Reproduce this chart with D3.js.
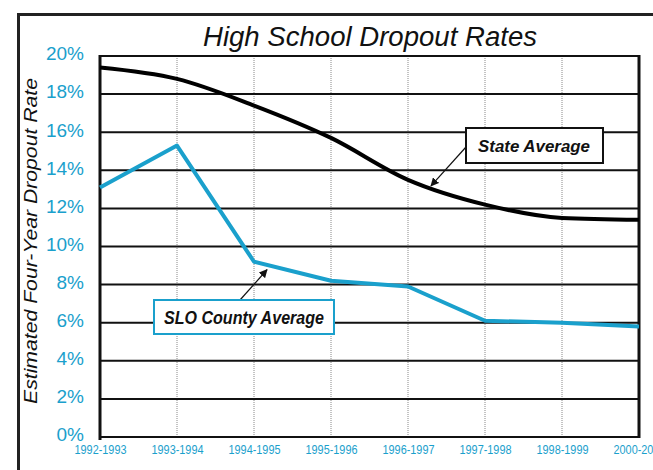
<!DOCTYPE html>
<html>
<head>
<meta charset="utf-8">
<script src="https://cdn.jsdelivr.net/npm/d3@7"></script>
<style>
  body { margin: 0; background: #fff; }
  svg { display: block; font-family: "Liberation Sans", Arial, sans-serif; }
</style>
</head>
<body>
<div id="chart"></div>
<script>
// Data
var years = ["1992-1993", "1993-1994", "1994-1995", "1995-1996", "1996-1997", "1997-1998", "1998-1999", "2000-2001"];
var stateAvg = [19.4, 18.8, 17.4, 15.7, 13.5, 12.2, 11.5, 11.4];
var sloAvg = [13.1, 15.3, 9.2, 8.2, 7.9, 6.1, 6.0, 5.8];
var yTicks = [0, 2, 4, 6, 8, 10, 12, 14, 16, 18, 20];

var svgWidth = 653;
var svgHeight = 470;
var blue = "#1aa0cc";

var svg = d3.select("#chart")
    .append("svg")
    .attr("width", svgWidth)
    .attr("height", svgHeight);

// outer frame (runs off the right and bottom edges)
svg.append("rect")
    .attr("x", 18.5)
    .attr("y", 14.5)
    .attr("width", 700)
    .attr("height", 500)
    .attr("fill", "none")
    .attr("stroke", "#222")
    .attr("stroke-width", 3);

var plot = { left: 100, right: 639, top: 56, bottom: 437 };

var x = d3.scalePoint()
    .domain(years)
    .range([plot.left, plot.right]);

var y = d3.scaleLinear()
    .domain([0, 20])
    .range([plot.bottom, plot.top]);

// vertical dotted grid
svg.append("g")
    .selectAll("line")
    .data(years)
    .enter()
    .append("line")
    .attr("x1", d => x(d))
    .attr("x2", d => x(d))
    .attr("y1", plot.top)
    .attr("y2", plot.bottom)
    .attr("stroke", "#888")
    .attr("stroke-dasharray", "1,1");

// horizontal grid lines
svg.append("g")
    .selectAll("line")
    .data(yTicks)
    .enter()
    .append("line")
    .attr("x1", plot.left)
    .attr("x2", plot.right)
    .attr("y1", d => y(d))
    .attr("y2", d => y(d))
    .attr("stroke", "#111")
    .attr("stroke-width", 2);

// left axis line and right border
svg.append("line")
    .attr("x1", plot.left).attr("x2", plot.left)
    .attr("y1", plot.top - 1).attr("y2", plot.bottom + 3)
    .attr("stroke", "#111").attr("stroke-width", 3);
svg.append("line")
    .attr("x1", plot.right).attr("x2", plot.right)
    .attr("y1", plot.top - 1).attr("y2", plot.bottom + 1)
    .attr("stroke", "#111").attr("stroke-width", 3);

// y axis tick labels
var leftAxis = d3.axisLeft(y)
    .tickValues(yTicks)
    .tickFormat(d => d + "%")
    .tickSize(0)
    .tickPadding(16);
var yAxisG = svg.append("g")
    .attr("transform", `translate(${plot.left}, 0)`)
    .call(leftAxis);
yAxisG.select(".domain").remove();
yAxisG.selectAll("text")
    .attr("fill", blue)
    .attr("font-size", 19)
    .attr("dy", "0.2em")
    .style("font-family", "'Liberation Sans', Arial, sans-serif");

// x axis labels
var bottomAxis = d3.axisBottom(x).tickSize(0).tickPadding(8);
var xAxisG = svg.append("g")
    .attr("transform", `translate(0, ${plot.bottom})`)
    .call(bottomAxis);
xAxisG.select(".domain").remove();
xAxisG.selectAll("text")
    .attr("fill", blue)
    .attr("font-size", 13)
    .attr("textLength", 52)
    .attr("lengthAdjust", "spacingAndGlyphs")
    .style("font-family", "'Liberation Sans Narrow', 'Liberation Sans', Arial, sans-serif");

// lines
var stateLine = d3.line()
    .x((d, i) => x(years[i]))
    .y(d => y(d))
    .curve(d3.curveMonotoneX);
var sloLine = d3.line()
    .x((d, i) => x(years[i]))
    .y(d => y(d));

svg.append("path")
    .datum(stateAvg)
    .attr("d", stateLine)
    .attr("fill", "none")
    .attr("stroke", "#000")
    .attr("stroke-width", 4);

svg.append("path")
    .datum(sloAvg)
    .attr("d", sloLine)
    .attr("fill", "none")
    .attr("stroke", blue)
    .attr("stroke-width", 4)
    .attr("stroke-linejoin", "round");

// title
svg.append("text")
    .attr("x", 370)
    .attr("y", 46)
    .attr("text-anchor", "middle")
    .attr("font-size", 27)
    .attr("font-style", "italic")
    .attr("fill", "#111")
    .attr("textLength", 334)
    .attr("lengthAdjust", "spacingAndGlyphs")
    .text("High School Dropout Rates");

// y axis title
svg.append("text")
    .attr("transform", "rotate(-90)")
    .attr("x", -241)
    .attr("y", 37)
    .attr("text-anchor", "middle")
    .attr("font-size", 19)
    .attr("font-style", "italic")
    .attr("fill", "#111")
    .attr("textLength", 326)
    .attr("lengthAdjust", "spacingAndGlyphs")
    .text("Estimated Four-Year Dropout Rate");

// arrow marker
svg.append("defs").append("marker")
    .attr("id", "arrow")
    .attr("viewBox", "0 0 10 10")
    .attr("refX", 9)
    .attr("refY", 5)
    .attr("markerWidth", 7)
    .attr("markerHeight", 7)
    .attr("orient", "auto")
    .append("path")
    .attr("d", "M0,0 L10,5 L0,10 z")
    .attr("fill", "#111");

// State Average callout
svg.append("line")
    .attr("x1", 466).attr("y1", 147)
    .attr("x2", x(years[4]) + 23).attr("y2", y(stateAvg[4]) + 6)
    .attr("stroke", "#111").attr("stroke-width", 1.2)
    .attr("marker-end", "url(#arrow)");
svg.append("rect")
    .attr("x", 466).attr("y", 128)
    .attr("width", 137).attr("height", 35)
    .attr("fill", "#fff")
    .attr("stroke", "#111").attr("stroke-width", 2);
svg.append("text")
    .attr("x", 534).attr("y", 152)
    .attr("text-anchor", "middle")
    .attr("font-size", 17)
    .attr("font-weight", "bold")
    .attr("font-style", "italic")
    .attr("fill", "#111")
    .attr("textLength", 112)
    .attr("lengthAdjust", "spacingAndGlyphs")
    .text("State Average");

// SLO County Average callout
svg.append("line")
    .attr("x1", 240).attr("y1", 300)
    .attr("x2", x(years[2]) + 13).attr("y2", y(sloAvg[2]) + 8)
    .attr("stroke", "#111").attr("stroke-width", 1.2)
    .attr("marker-end", "url(#arrow)");
svg.append("rect")
    .attr("x", 154).attr("y", 300)
    .attr("width", 180).attr("height", 34)
    .attr("fill", "#fff")
    .attr("stroke", blue).attr("stroke-width", 2);
svg.append("text")
    .attr("x", 244).attr("y", 324)
    .attr("text-anchor", "middle")
    .attr("font-size", 18)
    .attr("font-weight", "bold")
    .attr("font-style", "italic")
    .attr("fill", "#111")
    .attr("textLength", 160)
    .attr("lengthAdjust", "spacingAndGlyphs")
    .text("SLO County Average");
</script>
</body>
</html>
